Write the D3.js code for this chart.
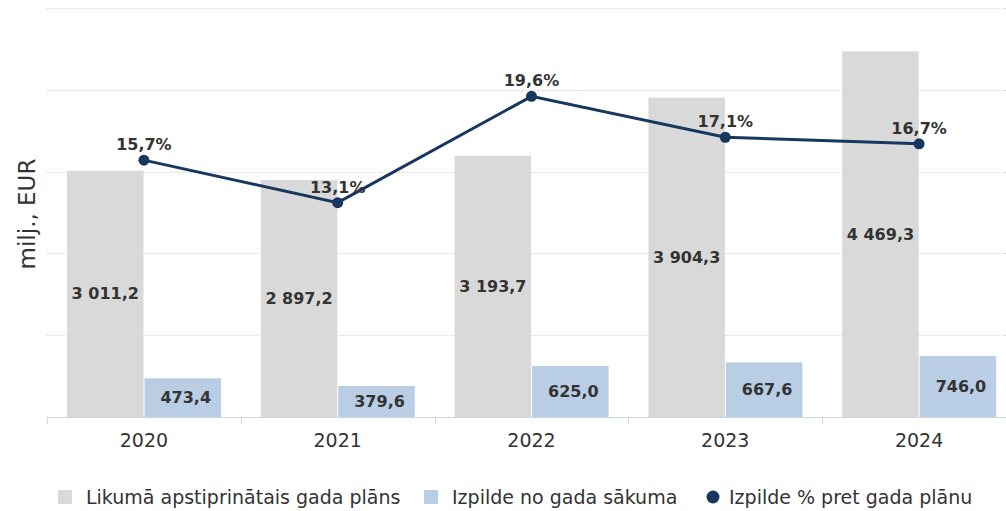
<!DOCTYPE html>
<html>
<head>
<meta charset="utf-8">
<script src="https://cdn.jsdelivr.net/npm/d3@7"></script>
<style>
  body { margin: 0; background: #fff; }
  text { font-family: "DejaVu Sans", sans-serif; fill: #333; }
</style>
</head>
<body>
<div id="chart"></div>
<script>
// data
var years = ["2020", "2021", "2022", "2023", "2024"];
var plan = [3011.2, 2897.2, 3193.7, 3904.3, 4469.3];
var done = [473.4, 379.6, 625.0, 667.6, 746.0];
var pct = [15.7, 13.1, 19.6, 17.1, 16.7];
var yTicks = [0, 1000, 2000, 3000, 4000, 5000];
var legendNames = ["Likumā apstiprinātais gada plāns", "Izpilde no gada sākuma", "Izpilde % pret gada plānu"];

var W = 1006, H = 511;
var plotL = 47, plotR = 1016, plotT = 8, plotB = 417;
var grey = "#d9d9d9", blue = "#b9cde5", navy = "#17375e";

function fmt(v) {
  var s = v.toFixed(1).replace(".", ",");
  var parts = s.split(",");
  parts[0] = parts[0].replace(/\B(?=(\d{3})+(?!\d))/g, " ");
  return parts.join(",");
}

var svg = d3.select("#chart").append("svg")
  .attr("width", W)
  .attr("height", H);

var x = d3.scaleBand().domain(years).range([plotL, plotR]);
var y = d3.scaleLinear().domain([0, 5000]).range([plotB, plotT]);
var yp = d3.scaleLinear().domain([0, 25]).range([plotB, plotT]);

// gridlines
svg.append("g").selectAll("line")
  .data(yTicks.slice(1))
  .enter().append("line")
    .attr("x1", plotL).attr("x2", W)
    .attr("y1", function(d) { return Math.round(y(d)) + 0.5; })
    .attr("y2", function(d) { return Math.round(y(d)) + 0.5; })
    .attr("stroke", "#d8d8d8")
    .attr("stroke-dasharray", "1,1");

// bars
var bw = 76.5, pad = 20;
svg.append("g").selectAll("rect")
  .data(years)
  .enter().append("rect")
    .attr("x", function(d) { return x(d) + pad; })
    .attr("y", function(d, i) { return y(plan[i]); })
    .attr("width", bw)
    .attr("height", function(d, i) { return plotB - y(plan[i]); })
    .attr("fill", grey);

svg.append("g").selectAll("rect")
  .data(years)
  .enter().append("rect")
    .attr("x", function(d) { return x(d) + pad + bw + 1; })
    .attr("y", function(d, i) { return y(done[i]); })
    .attr("width", bw)
    .attr("height", function(d, i) { return plotB - y(done[i]); })
    .attr("fill", blue);

// bar labels
svg.append("g").selectAll("text")
  .data(years)
  .enter().append("text")
    .attr("x", function(d) { return x(d) + pad + bw / 2; })
    .attr("y", function(d, i) { return (y(plan[i]) + plotB) / 2; })
    .attr("dy", "0.35em")
    .attr("text-anchor", "middle")
    .style("font-size", "16px")
    .style("font-weight", "bold")
    .text(function(d, i) { return fmt(plan[i]); });

svg.append("g").selectAll("text")
  .data(years)
  .enter().append("text")
    .attr("x", function(d) { return x(d) + pad + bw + 1 + bw / 2 + 3; })
    .attr("y", function(d, i) { return (y(done[i]) + plotB) / 2; })
    .attr("dy", "0.35em")
    .attr("text-anchor", "middle")
    .style("font-size", "16px")
    .style("font-weight", "bold")
    .text(function(d, i) { return fmt(done[i]); });

// x axis
var xAxis = svg.append("g")
  .attr("transform", "translate(0," + (plotB + 0.5) + ")");
xAxis.append("line")
  .attr("x1", plotL).attr("x2", plotR)
  .attr("stroke", "#ccd6e0");
xAxis.selectAll(".tk")
  .data(years)
  .enter().append("line")
    .attr("x1", function(d) { return Math.round(x(d)) + 0.5; })
    .attr("x2", function(d) { return Math.round(x(d)) + 0.5; })
    .attr("y1", 0).attr("y2", 7)
    .attr("stroke", "#ccd6e0");
xAxis.selectAll("text")
  .data(years)
  .enter().append("text")
    .attr("x", function(d) { return x(d) + x.bandwidth() / 2; })
    .attr("y", 29)
    .attr("text-anchor", "middle")
    .style("font-size", "19px")
    .text(function(d) { return d; });

// y title
svg.append("text")
  .attr("transform", "translate(35,214) rotate(-90)")
  .attr("text-anchor", "middle")
  .style("font-size", "23px")
  .text("milj., EUR");

// percent line
var line = d3.line()
  .x(function(d, i) { return x(years[i]) + x.bandwidth() / 2; })
  .y(function(d) { return yp(d); });

svg.append("path")
  .datum(pct)
  .attr("d", line)
  .attr("fill", "none")
  .attr("stroke", navy)
  .attr("stroke-width", 3);

svg.append("g").selectAll("circle")
  .data(pct)
  .enter().append("circle")
    .attr("cx", function(d, i) { return x(years[i]) + x.bandwidth() / 2; })
    .attr("cy", function(d) { return yp(d); })
    .attr("r", 5.5)
    .attr("fill", navy);

svg.append("g").selectAll("text")
  .data(pct)
  .enter().append("text")
    .attr("x", function(d, i) { return x(years[i]) + x.bandwidth() / 2; })
    .attr("y", function(d) { return yp(d) - 10; })
    .attr("text-anchor", "middle")
    .style("font-size", "16px")
    .style("font-weight", "bold")
    .text(function(d) { return d.toFixed(1).replace(".", ",") + "%"; });

// legend
var lg = svg.append("g").attr("transform", "translate(0,497)");
var lx = [58, 424, 707];
legendNames.forEach(function(name, i) {
  if (i < 2) {
    lg.append("rect")
      .attr("x", lx[i]).attr("y", -7)
      .attr("width", 14).attr("height", 14)
      .attr("fill", i == 0 ? grey : blue);
  } else {
    lg.append("circle")
      .attr("cx", lx[i] + 6).attr("cy", 0)
      .attr("r", 6.5)
      .attr("fill", navy);
  }
  lg.append("text")
    .attr("x", lx[i] + (i < 2 ? 28 : 22))
    .attr("y", 0)
    .attr("dy", "0.35em")
    .style("font-size", "19px")
    .text(name);
});
</script>
</body>
</html>
